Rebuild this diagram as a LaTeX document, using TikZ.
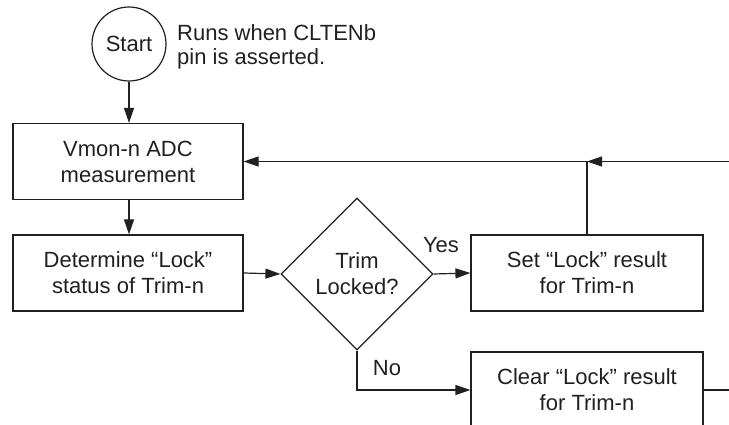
\documentclass[tikz,border=0pt]{standalone}
\usepackage{fontspec}
\setmainfont{Liberation Sans}
\usetikzlibrary{shapes.geometric,arrows.meta,calc}
\definecolor{ink}{HTML}{231F20}
\begin{document}
\begin{tikzpicture}[x=1pt,y=-1pt,
  txt/.style={font=\fontsize{22}{26}\selectfont, text=ink},
  box/.style={txt, draw=ink, line width=1.2pt, minimum width=230pt, minimum height=76pt, align=center, inner sep=0pt},
  startnode/.style={txt, draw=ink, line width=1.2pt, circle, minimum size=74pt, inner sep=0pt},
  decision/.style={txt, draw=ink, line width=1.2pt, diamond, aspect=1, minimum width=152pt, minimum height=152pt, align=center, inner sep=0pt},
  note/.style={font=\fontsize{22}{24}\selectfont, text=ink, align=left, inner sep=0pt},
  lbl/.style={txt, inner sep=0pt},
  conn/.style={draw=ink, line width=1.2pt},
  arr/.style={conn, -{Triangle[length=15pt,width=10pt]}}
]
\useasboundingbox (0,0) rectangle (729,425);
\clip (0,0) rectangle (729,425);

\node[startnode] (start) at (129,44) {Start};
\node[note, anchor=west] (note) at (177,47.3) {Runs when CLTENb\\pin is asserted.};

\node[box] (vmon) at (128,161.5) {Vmon-n ADC\\measurement};
\node[box] (det) at (128,273) {Determine “Lock”\\status of Trim-n};
\node[decision] (dia) at (357,274) {Trim\\Locked?};
\node[box, minimum width=232pt] (set) at (587,273) {Set “Lock” result\\for Trim-n};
\node[box, minimum width=232pt] (clear) at (587,390) {Clear “Lock” result\\for Trim-n};

\node[lbl, anchor=base] (yes) at (441,252) {Yes};
\node[lbl, anchor=base] (no) at (387,375) {No};

\coordinate (rin) at (729,161.5);
\coordinate (rout) at (729,390);
\coordinate (join) at (set.north |- vmon.east);

\draw[arr] (start) -- (start |- vmon.north);
\draw[arr] (vmon.south -| start) -- (det.north -| start);
\draw[arr] (det.east) -- (dia.west);
\draw[arr] (dia.east) -- (set.west);
\draw[arr] (set.north) -- (join) -- (vmon.east);
\draw[arr] (rin) -- (join);
\draw[arr] (dia.south) |- (clear.west);
\draw[conn] (clear.east) -- (rout);
\end{tikzpicture}
\end{document}
